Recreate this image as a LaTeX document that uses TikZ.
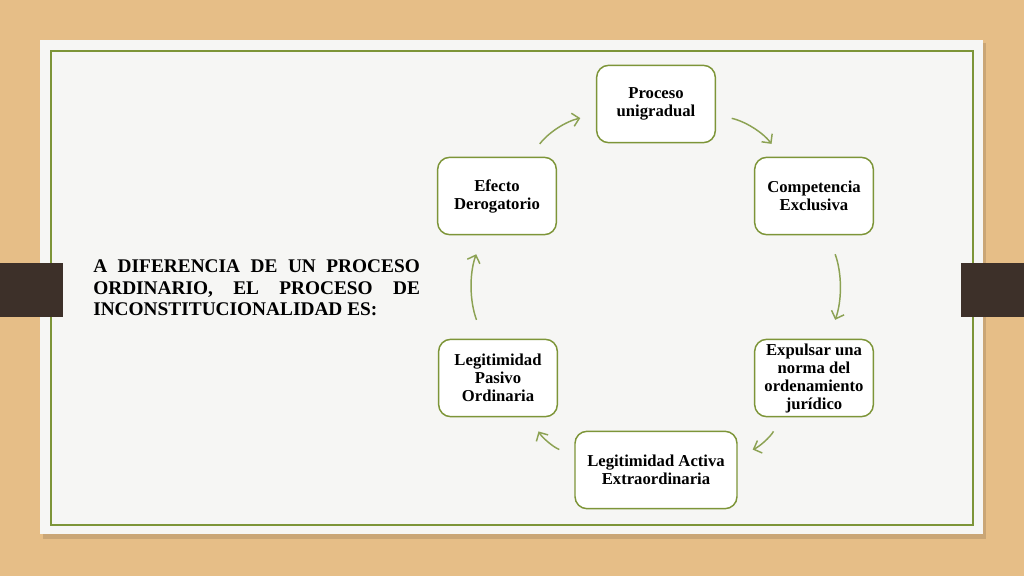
\documentclass[tikz,border=0pt]{standalone}
\usepackage{fontspec}
\setmainfont{Liberation Serif}
\usetikzlibrary{arrows.meta}

\definecolor{wood}{HTML}{E6BE87}
\definecolor{paper}{HTML}{F6F6F4}
\definecolor{olive}{HTML}{7D9538}
\definecolor{arrowgreen}{HTML}{8CA253}
\definecolor{strap}{HTML}{3D3029}

\tikzset{
  stage/.style={draw=olive, line width=1.1pt, fill=white, rounded corners=9pt,
    minimum width=89pt, minimum height=58pt, align=center, inner sep=2pt,
    font=\bfseries\fontsize{12.5}{13.5}\selectfont},
  cycarrow/.style={draw=arrowgreen, line width=1.1pt,
    -{Straight Barb[length=5pt,width=10pt]}, bend left=20,
    shorten <=12pt, shorten >=12pt},
}

\begin{document}
\begin{tikzpicture}[x=0.75pt,y=0.75pt]
  \useasboundingbox (0,0) rectangle (1024,576);
  \fill[wood] (0,0) rectangle (1024,576);
  % paper sheet
  \fill[black, opacity=0.12] (43,37) rectangle (986,533);
  \fill[paper] (40,42) rectangle (983,536);
  \draw[olive, line width=1.1pt] (51,51) rectangle (973,525);
  \fill[strap] (0,259) rectangle (63,313);
  \fill[strap] (961,259) rectangle (1024,313);

  \node[text width=245pt, align=justify, anchor=west, inner sep=0pt,
    font=\bfseries\fontsize{14.5}{16}\selectfont] (intro) at (93,288)
    {A DIFERENCIA DE UN PROCESO ORDINARIO, EL PROCESO DE \mbox{INCONSTITUCIONALIDAD} ES:};

  % cycle
  \node[stage] (proceso) at (656,472) {Proceso\\unigradual};
  \node[stage] (competencia) at (814,380) {Competencia\\Exclusiva};
  \node[stage] (expulsar) at (814,198) {Expulsar una\\norma del\\ordenamiento\\jurídico};
  \node[stage, minimum width=121.5pt] (activa) at (656,106) {Legitimidad Activa\\Extraordinaria};
  \node[stage] (pasivo) at (498,198) {Legitimidad\\Pasivo\\Ordinaria};
  \node[stage] (efecto) at (497,380) {Efecto\\Derogatorio};

  \draw[cycarrow] (proceso) to (competencia);
  \draw[cycarrow, shorten <=15pt, shorten >=15pt] (competencia) to (expulsar);
  \draw[cycarrow] (expulsar) to (activa);
  \draw[cycarrow] (activa) to (pasivo);
  \draw[cycarrow, shorten <=15pt, shorten >=15pt] (pasivo) to (efecto);
  \draw[cycarrow] (efecto) to (proceso);

\end{tikzpicture}
\end{document}
